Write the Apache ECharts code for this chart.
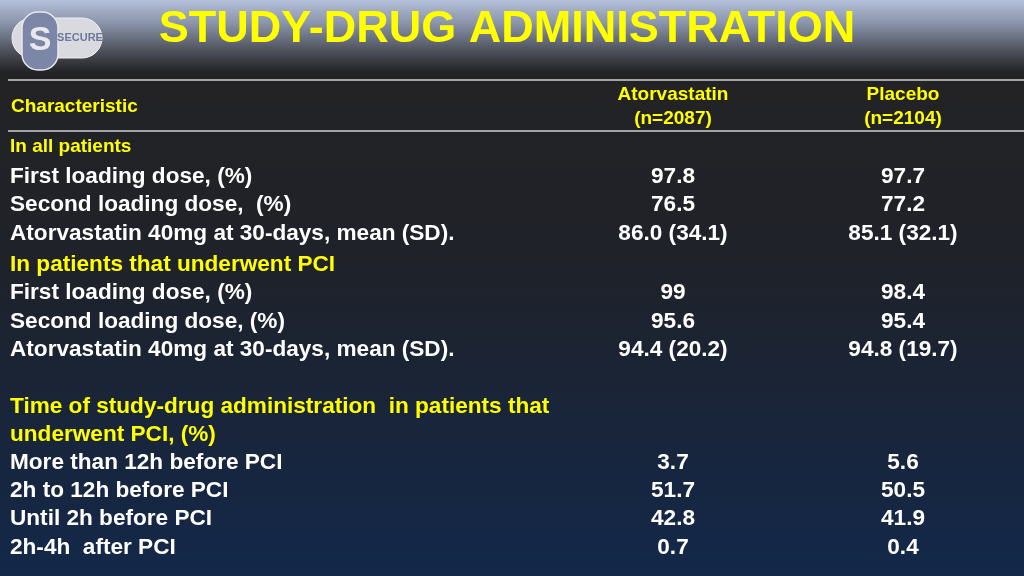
<!DOCTYPE html>
<html><head><meta charset="utf-8">
<script src="https://cdn.jsdelivr.net/npm/echarts@6/dist/echarts.min.js"></script>
<style>html,body{margin:0;padding:0;background:#202022}#c{width:1024px;height:576px}</style>
</head><body><div id="c"></div>
<script>
(function() {
  var title = "STUDY-DRUG ADMINISTRATION";
  var colHeads = ["Atorvastatin\n(n=2087)", "Placebo\n(n=2104)"];
  // label, atorvastatin, placebo, kind (h = yellow section, r = row)
  var labels = ["In all patients", "First loading dose, (%)", "Second loading dose,  (%)", "Atorvastatin 40mg at 30-days, mean (SD).",
    "In patients that underwent PCI", "First loading dose, (%)", "Second loading dose, (%)", "Atorvastatin 40mg at 30-days, mean (SD).",
    "Time of study-drug administration  in patients that", "underwent PCI, (%)", "More than 12h before PCI", "2h to 12h before PCI", "Until 2h before PCI", "2h-4h  after PCI"];
  var atorva = ["", "97.8", "76.5", "86.0 (34.1)", "", "99", "95.6", "94.4 (20.2)", "", "", "3.7", "51.7", "42.8", "0.7"];
  var placebo = ["", "97.7", "77.2", "85.1 (32.1)", "", "98.4", "95.4", "94.8 (19.7)", "", "", "5.6", "50.5", "41.9", "0.4"];
  var kinds = ["h0", "r", "r", "r", "h", "r", "r", "r", "h", "h", "r", "r", "r", "r"];
  var rowY = [147, 177, 205, 234, 265, 293, 322, 350, 407, 435, 463, 491, 519, 548];

  function txt(x, y, s, size, color, align, extra) {
    var st = { text: s, fill: color, fontFamily: "Liberation Sans", fontWeight: "bold", fontSize: size,
      align: align || "left", verticalAlign: "middle" };
    for (var k in extra || {}) st[k] = extra[k];
    return { type: "text", x: x, y: y, style: st };
  }
  var g = [
    { type: "rect", shape: { x: 0, y: 0, width: 1024, height: 576 }, silent: true,
      style: { fill: new echarts.graphic.LinearGradient(0, 0, 0, 1, [
        { offset: 0, color: "#b4c0da" }, { offset: 0.04, color: "#8a94aa" }, { offset: 0.09, color: "#4b4f58" }, { offset: 0.125, color: "#232325" },
        { offset: 0.45, color: "#1f2229" }, { offset: 1, color: "#13284a" }]) } },
    txt(507, 30, title, 45, "#ffff00", "center"),
    { type: "rect", shape: { x: 12, y: 18, width: 90, height: 40, r: 20 }, style: { fill: "#d8dae0", stroke: "#f0f0f0", lineWidth: 1 } },
    { type: "rect", shape: { x: 22, y: 12, width: 36, height: 58, r: 16 }, style: { fill: "#7c86a6", stroke: "#e8e8ee", lineWidth: 1.5 } },
    txt(40, 41, "S", 34, "#e8e8ee", "center"),
    txt(80, 38, "SECURE", 11, "#6f789a", "center"),
    { type: "line", shape: { x1: 8, y1: 80, x2: 1024, y2: 80 }, style: { stroke: "#d0d0d0", lineWidth: 1.5 } },
    { type: "line", shape: { x1: 8, y1: 131, x2: 1024, y2: 131 }, style: { stroke: "#d0d0d0", lineWidth: 1.5 } },
    txt(11, 107, "Characteristic", 19, "#ffff00"),
    txt(673, 107, colHeads[0], 19, "#ffff00", "center", { lineHeight: 24 }),
    txt(903, 107, colHeads[1], 19, "#ffff00", "center", { lineHeight: 24 })
  ];
  labels.forEach(function(l, i) {
    var k = kinds[i];
    g.push(txt(10, rowY[i], l, k === "h0" ? 19 : 22.6, k === "r" ? "#ffffff" : "#ffff00"));
    g.push(txt(673, rowY[i], atorva[i], 22.6, "#ffffff", "center"));
    g.push(txt(903, rowY[i], placebo[i], 22.6, "#ffffff", "center"));
  });

  var myChart = echarts.init(document.getElementById("c"));
  myChart.setOption({ graphic: { elements: g } });
})();
</script></body></html>
